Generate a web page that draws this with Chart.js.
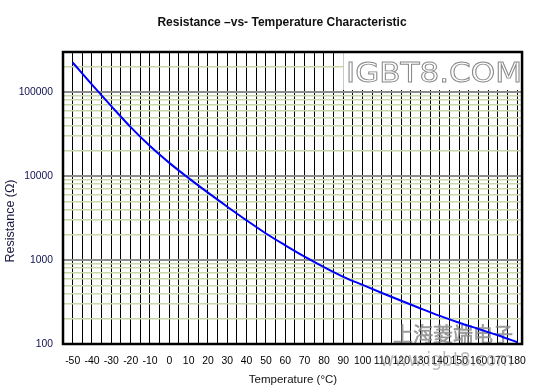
<!DOCTYPE html>
<html>
<head>
<meta charset="utf-8">
<script src="https://cdn.jsdelivr.net/npm/chart.js@4.4.1/dist/chart.umd.min.js"></script>
<style>
    body { margin: 0; background: #fff; }
    #wrap { width: 537px; height: 388px; }
</style>
</head>
<body>
<div id="wrap"><canvas id="ntcChart" width="537" height="388"></canvas></div>
<script>
// Values
const temperatures = [-50, -40, -30, -20, -10, 0, 10, 20, 30, 40, 50, 60, 70, 80, 90, 100, 110, 120, 130, 140, 150, 160, 170, 180];
const resistance = [225000, 122500, 67900, 38200, 22750, 14350, 9440, 6340, 4315, 2965, 2070, 1496, 1096, 822, 631, 505, 405, 327, 265, 216, 179, 151, 127, 105];

const xTickLabels = [-50, -40, -30, -20, -10, 0, 10, 20, 30, 40, 50, 60, 70, 80, 90, 100, 110, 120, 130, 140, 150, 160, 170, 180];
const yTickLabels = [100, 1000, 10000, 100000];
const yMinorFactors = [2, 3, 4, 5, 6, 7, 8, 9];

const chartTitle = "Resistance \u2013vs- Temperature Characteristic";
const xTitle = "Temperature (\u00B0C)";
const yTitle = "Resistance (\u03A9)";

// gridlines: every 5 degrees, and 1..9 per decade
const xGrid = [];
xTickLabels.forEach((t, i) => {
    xGrid.push(t);
    if (i < xTickLabels.length - 1) xGrid.push((t + xTickLabels[i + 1]) / 2);
});
const yGrid = [];
yTickLabels.forEach(d => {
    yGrid.push(d);
    yMinorFactors.forEach(f => { if (d * f < 300000) yGrid.push(d * f); });
});

const decorations = {
    id: 'decorations',
    beforeDraw(chart) {
        const ctx = chart.ctx;
        ctx.save();
        ctx.fillStyle = '#fff';
        ctx.fillRect(0, 0, chart.width, chart.height);
        ctx.restore();
    },
    beforeDatasetsDraw(chart) {
        const ctx = chart.ctx;
        const a = chart.chartArea;
        ctx.save();
        // logo box, top right
        ctx.fillStyle = '#fff';
        ctx.fillRect(343, a.top, a.right - 343, 38);
        ctx.strokeStyle = '#c8c8c8';
        ctx.lineWidth = 1;
        ctx.beginPath();
        ctx.moveTo(343.5, a.top);
        ctx.lineTo(343.5, a.top + 38);
        ctx.stroke();

        ctx.font = "26px 'DejaVu Sans'";
        ctx.textBaseline = 'alphabetic';
        let w = ctx.measureText('IGBT8.COM').width;
        ctx.translate(346, 81.5);
        ctx.scale(176 / w, 1);
        ctx.fillStyle = '#fff';
        ctx.fillText('IGBT8.COM', 0, 0);
        ctx.strokeStyle = '#8a8a8a';
        ctx.lineWidth = 0.9;
        ctx.strokeText('IGBT8.COM', 0, 0);
        ctx.restore();

        ctx.save();
        ctx.font = "20px 'Noto Sans CJK SC'";
        ctx.textBaseline = 'middle';
        ctx.textAlign = 'left';
        ctx.fillStyle = 'rgba(150,150,150,0.85)';
        ctx.fillText('\u4E0A\u6D77\u83F1\u7AEF\u7535\u5B50', 393, 334);
        ctx.strokeStyle = 'rgba(110,110,110,0.6)';
        ctx.lineWidth = 0.6;
        ctx.strokeText('\u4E0A\u6D77\u83F1\u7AEF\u7535\u5B50', 393, 334);
        ctx.restore();
    },
    afterDatasetsDraw(chart) {
        const ctx = chart.ctx;
        const a = chart.chartArea;
        ctx.save();
        ctx.strokeStyle = '#000';
        ctx.lineWidth = 2.5;
        ctx.strokeRect(a.left, a.top, a.right - a.left, a.bottom - a.top);
        ctx.restore();
    },
    afterDraw(chart) {
        const ctx = chart.ctx;
        ctx.save();
        ctx.fillStyle = '#111';
        ctx.textAlign = 'center';
        ctx.textBaseline = 'middle';
        ctx.font = "bold 12px 'Liberation Sans'";
        ctx.fillText(chartTitle, 282, 23);

        ctx.font = "11.5px 'Liberation Sans'";
        ctx.fillText(xTitle, 293, 380);

        ctx.save();
        ctx.translate(11, 221);
        ctx.rotate(-Math.PI / 2);
        ctx.font = "12.5px 'Liberation Sans'";
        ctx.fillStyle = '#1a1a40';
        ctx.fillText(yTitle, 0, 0);
        ctx.restore();

        // site watermark over the axis labels
        ctx.font = "19px 'DejaVu Sans'";
        ctx.textAlign = 'left';
        let w = ctx.measureText('www.igbt8.com').width;
        ctx.translate(380, 361);
        ctx.scale(133 / w, 1);
        ctx.fillStyle = 'rgba(120,120,120,0.5)';
        ctx.fillText('www.igbt8.com', 0, 0);
        ctx.restore();
    }
};

new Chart(document.getElementById('ntcChart').getContext('2d'), {
    type: 'line',
    data: {
        datasets: [{
            data: temperatures.map((t, i) => ({ x: t, y: resistance[i] })),
            borderColor: '#0000ff',
            borderWidth: 2,
            pointRadius: 0,
            cubicInterpolationMode: 'monotone',
            fill: false
        }]
    },
    options: {
        responsive: false,
        devicePixelRatio: 1,
        animation: false,
        layout: { padding: { left: 0, right: 10, top: 52, bottom: 0 } },
        plugins: { legend: { display: false }, title: { display: false }, tooltip: { enabled: false } },
        scales: {
            x: {
                type: 'linear',
                min: -55,
                max: 182.5,
                afterBuildTicks: s => { s.ticks = xGrid.map(v => ({ value: v })); },
                afterFit: s => { s.height = 44; },
                border: { display: false },
                grid: { color: '#000', lineWidth: 1, drawTicks: false },
                ticks: {
                    autoSkip: false,
                    maxRotation: 0,
                    minRotation: 0,
                    padding: 11,
                    color: '#000',
                    font: { family: 'Liberation Sans', size: 10.4 },
                    callback: v => xTickLabels.includes(v) ? String(v) : ''
                }
            },
            y: {
                type: 'logarithmic',
                min: 100,
                max: 300000,
                afterBuildTicks: s => { s.ticks = yGrid.map(v => ({ value: v })); },
                afterFit: s => { s.width = 63; },
                border: { display: false },
                grid: {
                    drawTicks: false,
                    color: c => yTickLabels.includes(c.tick.value) ? '#8c8c8c' : '#c8d8aa',
                    lineWidth: c => yTickLabels.includes(c.tick.value) ? 2 : 1.5
                },
                ticks: {
                    autoSkip: false,
                    padding: 10,
                    color: '#101050',
                    font: { family: 'Liberation Sans', size: 10.3 },
                    callback: v => yTickLabels.includes(v) ? String(v) : ''
                }
            }
        }
    },
    plugins: [decorations]
});
</script>
</body>
</html>
